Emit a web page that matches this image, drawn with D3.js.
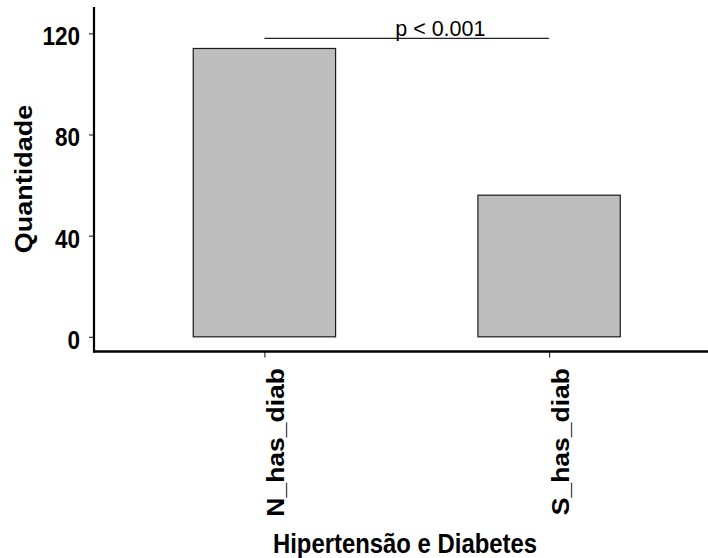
<!DOCTYPE html>
<html>
<head>
<meta charset="utf-8">
<script src="https://cdn.jsdelivr.net/npm/d3@7"></script>
<style>
  html, body { margin: 0; padding: 0; background: #ffffff; }
  svg { display: block; }
  text { font-family: "Liberation Sans", Arial, sans-serif; }
</style>
</head>
<body>
<svg id="chart" width="708" height="558"></svg>
<script>
// ---- data ----
const categories = ["N_has_diab", "S_has_diab"];
const values = [114, 56];
const yTicks = [0, 40, 80, 120];
const xTitle = "Hipertensão e Diabetes";
const yTitle = "Quantidade";
const pLabel = "p < 0.001";
const pBracketValue = 118;

// ---- layout ----
const W = 708, H = 558;
const svg = d3.select("#chart");
const sx = 0.87; // horizontal squish of bold text

const x = d3.scalePoint().domain(categories).range([93.6, 719.9]).padding(0.6);
const step = x.step();
const barW = step * 0.5;
const y = d3.scaleLinear().domain([-5.8, 130.4]).range([351.5, 7]);

// bars
svg.append("g").selectAll("rect")
  .data(categories.map((c, i) => ({c, v: values[i]})))
  .join("rect")
  .attr("x", d => x(d.c) - barW / 2)
  .attr("width", barW)
  .attr("y", d => y(d.v))
  .attr("height", d => y(0) - y(d.v))
  .attr("fill", "#bebebe")
  .attr("stroke", "#1a1a1a")
  .attr("stroke-width", 1.2);

// y axis
const yAxis = d3.axisLeft(y).tickValues(yTicks).tickSize(5).tickFormat("");
const gy = svg.append("g").attr("transform", "translate(94,0)").call(yAxis);
gy.select(".domain").remove();
gy.selectAll(".tick line").attr("stroke", "#333").attr("stroke-width", 1.2);
svg.append("line").attr("x1", 94).attr("x2", 94).attr("y1", 7).attr("y2", 352.5)
  .attr("stroke", "#000").attr("stroke-width", 2.2);

gy.selectAll(".tick").append("text")
  .attr("transform", `translate(-14,11.5) scale(0.9,1)`)
  .attr("text-anchor", "end")
  .attr("fill", "#000")
  .attr("font-size", 25)
  .attr("font-weight", "bold")
  .text(d => d);

// x axis
const xAxis = d3.axisBottom(x).tickSize(6).tickFormat("");
const gx = svg.append("g").attr("transform", "translate(0,351.5)").call(xAxis);
gx.select(".domain").remove();
gx.selectAll(".tick line").attr("stroke", "#333").attr("stroke-width", 1.2);
svg.append("line").attr("x1", 93).attr("x2", 708).attr("y1", 351.5).attr("y2", 351.5)
  .attr("stroke", "#000").attr("stroke-width", 2.5);

gx.selectAll(".tick").append("text")
  .attr("transform", `translate(19.5,16.5) scale(${sx},1) rotate(-90)`)
  .attr("text-anchor", "end")
  .attr("fill", "#000")
  .attr("font-size", 26.5)
  .attr("font-weight", "bold")
  .text(d => d);

// axis titles
svg.append("text")
  .attr("transform", `translate(405,553) scale(0.885,1)`)
  .attr("text-anchor", "middle")
  .attr("font-size", 27)
  .attr("font-weight", "bold")
  .text(xTitle);

svg.append("text")
  .attr("transform", `translate(32,179) scale(${sx},1) rotate(-90)`)
  .attr("text-anchor", "middle")
  .attr("font-size", 27)
  .attr("font-weight", "bold")
  .text(yTitle);

// significance bracket
const yb = y(pBracketValue);
svg.append("line")
  .attr("x1", x(categories[0])).attr("x2", x(categories[1]))
  .attr("y1", yb).attr("y2", yb)
  .attr("stroke", "#222").attr("stroke-width", 1.3);
svg.append("text")
  .attr("x", x(categories[0]) + 0.618 * step)
  .attr("y", yb - 2.5)
  .attr("text-anchor", "middle")
  .attr("font-size", 21.5)
  .attr("fill", "#000")
  .text(pLabel);
</script>
</body>
</html>
